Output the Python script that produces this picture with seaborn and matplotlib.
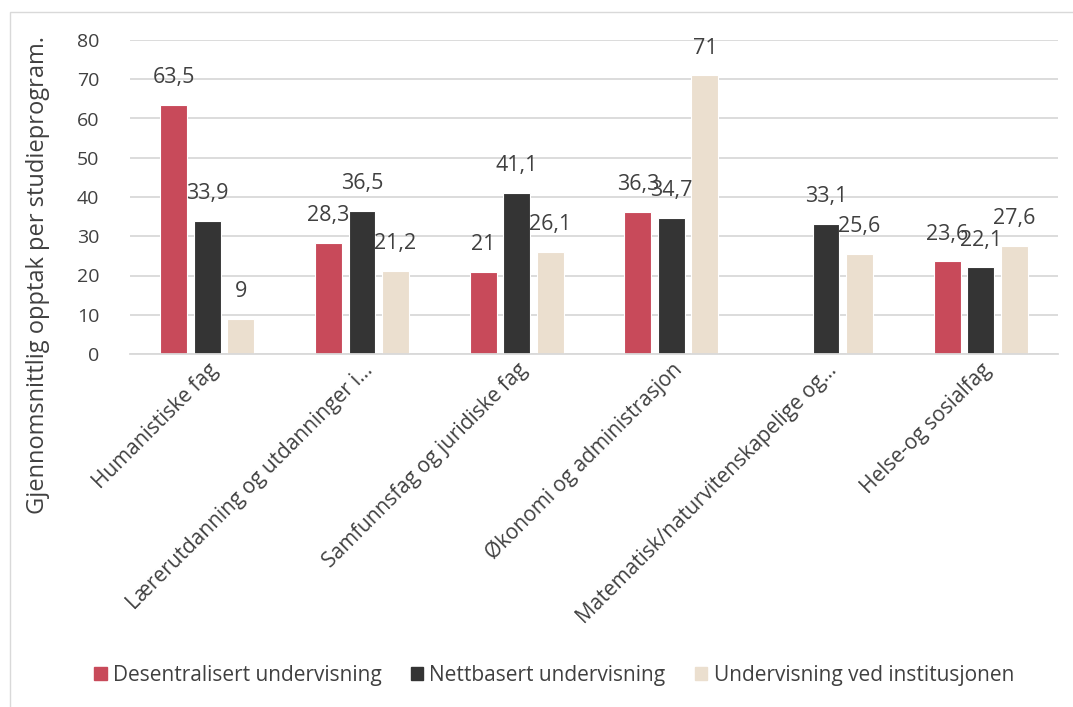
import numpy as np
import pandas as pd
import matplotlib
matplotlib.use("Agg")
import matplotlib.pyplot as plt
from matplotlib.patches import Rectangle
import seaborn as sns

categories = ["Humanistiske fag",
              "Lærerutdanning og utdanninger i…",
              "Samfunnsfag og juridiske fag",
              "Økonomi og administrasjon",
              "Matematisk/naturvitenskapelige og…",
              "Helse-og sosialfag"]
series = ["Desentralisert undervisning", "Nettbasert undervisning", "Undervisning ved institusjonen"]
desentralisert = [63.5, 28.3, 21.0, 36.3, np.nan, 23.6]
nettbasert = [33.9, 36.5, 41.1, 34.7, 33.1, 22.1]
institusjon = [9.0, 21.2, 26.1, 71.0, 25.6, 27.6]
colors = ["#C84A5A", "#343434", "#EBDFCF"]

df = pd.DataFrame({"kategori": categories * 3,
                   "serie": np.repeat(series, len(categories)),
                   "verdi": desentralisert + nettbasert + institusjon})

sns.set_style("white")
plt.rcParams['font.family'] = ['Open Sans', 'DejaVu Sans']
txt = "#404040"

fig = plt.figure(figsize=(10.73, 7.07), dpi=100)
ax = fig.add_axes([130 / 1073, 1 - 354 / 707, 928 / 1073, 314 / 707])

sns.barplot(data=df, x="kategori", y="verdi", hue="serie", palette=colors,
            saturation=1, width=0.65, gap=0.2, ax=ax, edgecolor="white",
            linewidth=0.8, order=categories, hue_order=series)

ax.set_ylim(0, 80)
ax.set_yticks(range(0, 81, 10))
ax.yaxis.grid(True, color="#D9D9D9", linewidth=1.3)
ax.set_axisbelow(True)
for s in ["top", "right", "left"]:
    ax.spines[s].set_visible(False)
ax.spines["bottom"].set_color("#D9D9D9")
ax.spines["bottom"].set_linewidth(1.3)
ax.tick_params(axis="y", length=0, labelsize=14, labelcolor=txt, pad=22)
ax.tick_params(axis="x", length=0, labelsize=15, labelcolor=txt, pad=4)
ax.set_xlabel("")
ax.set_ylabel("")
plt.setp(ax.get_xticklabels(), rotation=45, ha="right", rotation_mode="anchor")

# dataetiketter med desimalkomma (overlapp som i originalen)
for cont in ax.containers:
    labels = ["" if np.isnan(v) else (f"{v:g}".replace(".", ",")) for v in cont.datavalues]
    ax.bar_label(cont, labels=labels, padding=12, fontsize=15.5, color=txt)

ax.legend_.remove()
handles = [Rectangle((0, 0), 1, 1, color=c) for c in colors]
fig.legend(handles, series, loc="center", bbox_to_anchor=(554 / 1073, 1 - 675 / 707),
           ncol=3, frameon=False, fontsize=15, labelcolor=txt,
           handlelength=0.6, handleheight=0.6, handletextpad=0.3, columnspacing=1.4)

fig.text(38 / 1073, 1 - 275 / 707, "Gjennomsnittlig opptak per studieprogram.",
         rotation=90, ha="center", va="center", fontsize=17, color=txt)

fig.patches.append(Rectangle((10 / 1073, -0.1), 1.2, 1.1 - 12 / 707, transform=fig.transFigure,
                             fill=False, edgecolor="#D9D9D9", linewidth=1))

fig.savefig("out.png", dpi=100)
